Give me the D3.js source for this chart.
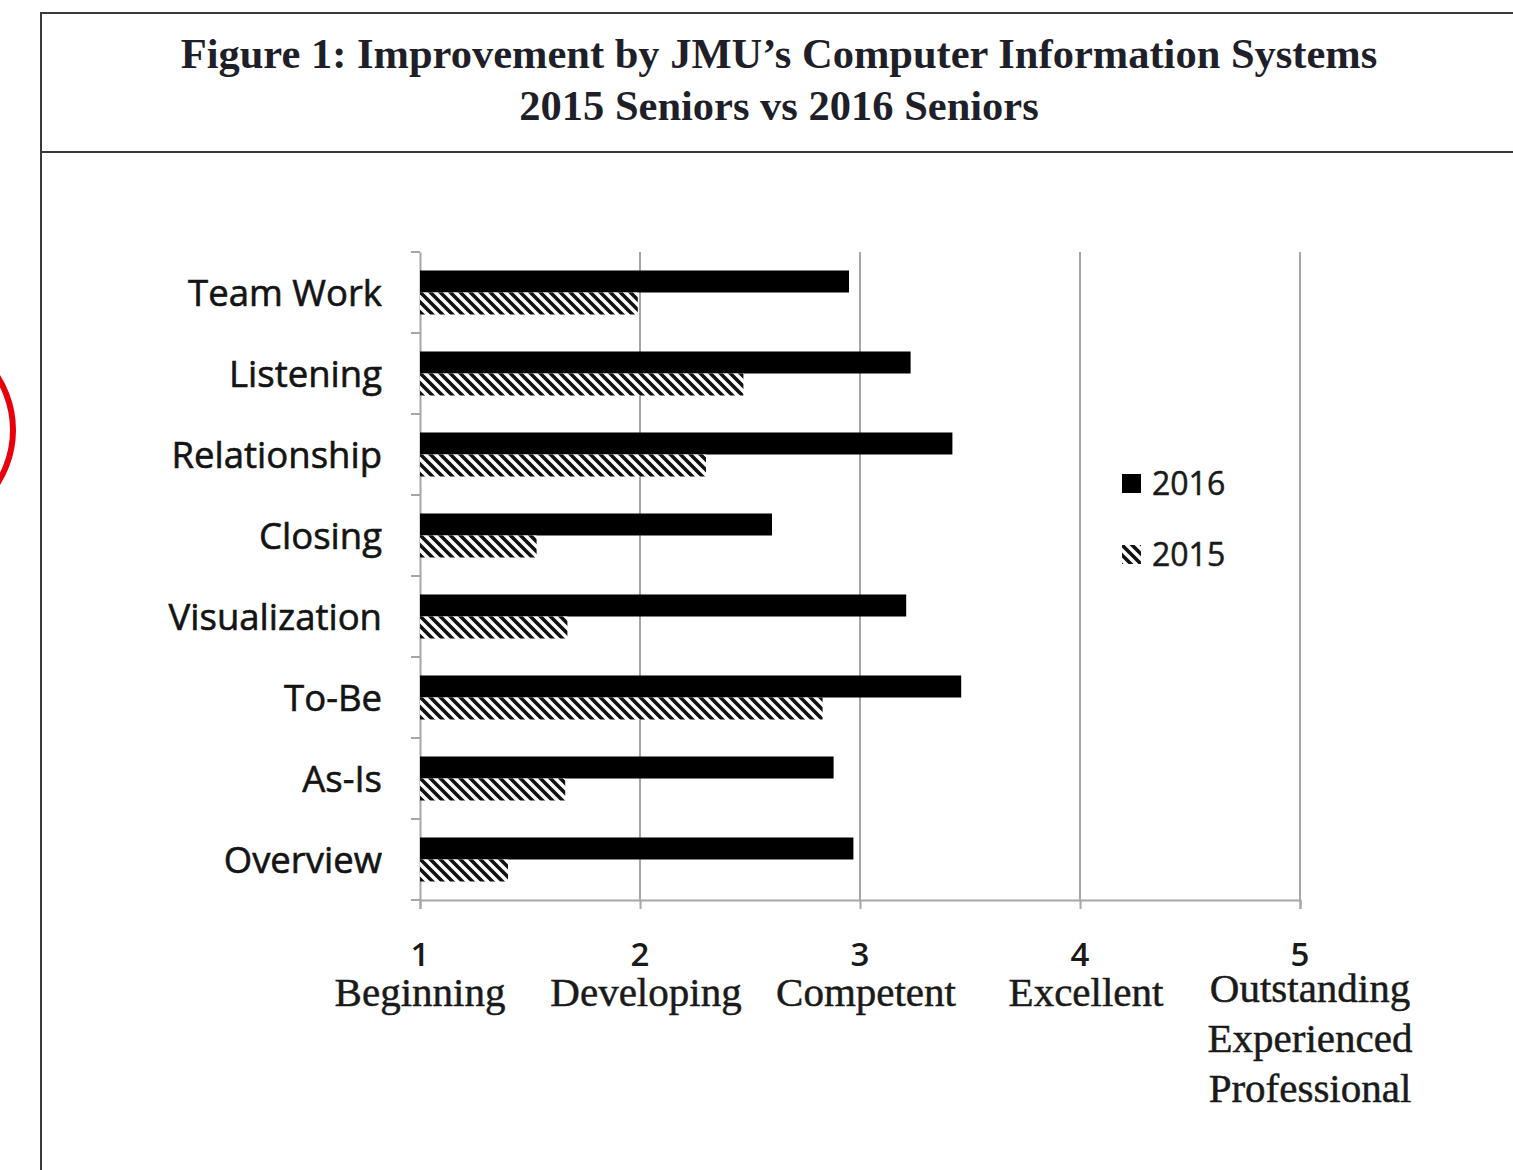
<!DOCTYPE html>
<html>
<head>
<meta charset="utf-8">
<script src="https://cdn.jsdelivr.net/npm/d3@7"></script>
<style>
  html, body { margin: 0; padding: 0; background: #fff; }
</style>
</head>
<body>
<svg id="chart"></svg>
<script>
const skills = ["Team Work", "Listening", "Relationship", "Closing", "Visualization", "To-Be", "As-Is", "Overview"];
const years = ["2016", "2015"];
const scores2016 = [2.95, 3.23, 3.42, 2.60, 3.21, 3.46, 2.88, 2.97];
const scores2015 = [1.99, 2.47, 2.30, 1.53, 1.67, 2.83, 1.66, 1.40];
const levels = [1, 2, 3, 4, 5];
const levelNames = [["Beginning"], ["Developing"], ["Competent"], ["Excellent"], ["Outstanding", "Experienced", "Professional"]];
const titleLines = ["Figure 1: Improvement by JMU\u2019s Computer Information Systems", "2015 Seniors vs 2016 Seniors"];

const width = 1513, height = 1170;
const svg = d3.select("#chart").attr("width", width).attr("height", height)
  .style("display", "block");

svg.append("rect").attr("width", width).attr("height", height).attr("fill", "#fff");

// hatch for 2015
const defs = svg.append("defs");
const pat = defs.append("pattern")
  .attr("id", "hatch")
  .attr("patternUnits", "userSpaceOnUse")
  .attr("width", 10).attr("height", 10);
pat.append("rect").attr("width", 10).attr("height", 10).attr("fill", "#fff");
pat.append("path")
  .attr("d", "M-2,-2L12,12M-2,8L2,12M8,-2L12,2")
  .attr("stroke", "#111").attr("stroke-width", 3.6);

// frame
const frame = svg.append("g").attr("stroke", "#3a3a3a").attr("stroke-width", 2).attr("fill", "none");
frame.append("path").attr("d", `M41,${height}V13H${width}`);
frame.append("line").attr("x1", 41).attr("x2", width).attr("y1", 152).attr("y2", 152);

// red annotation arc at the left edge
svg.append("circle").attr("cx", -86).attr("cy", 430).attr("r", 99)
  .attr("fill", "none").attr("stroke", "#e8000b").attr("stroke-width", 6);

// title
svg.append("g").selectAll("text")
  .data(titleLines)
  .join("text")
  .attr("x", 779)
  .attr("y", (d, i) => 68 + i * 52)
  .attr("text-anchor", "middle")
  .attr("font-family", "'Liberation Serif', 'Times New Roman', serif")
  .attr("font-weight", "bold")
  .attr("font-size", 42.5)
  .attr("fill", "#1f1f2a")
  .text(d => d);

const x = d3.scaleLinear().domain([1, 5]).range([420, 1300]);
const y = d3.scaleBand().domain(skills).range([252, 900]).padding(0);
const yInner = d3.scaleBand().domain(years).range([0, y.bandwidth()])
  .paddingInner(0).paddingOuter(0.84);

// gridlines
svg.append("g").selectAll("line")
  .data(levels.slice(1))
  .join("line")
  .attr("x1", d => x(d)).attr("x2", d => x(d))
  .attr("y1", 252).attr("y2", 900)
  .attr("stroke", "#a6a6a6").attr("stroke-width", 2);

// x axis
const xAxis = svg.append("g").attr("transform", "translate(0,900)")
  .call(d3.axisBottom(x).tickValues(levels).tickSize(9).tickFormat(""));
xAxis.select(".domain").attr("stroke", "#a6a6a6").attr("stroke-width", 2);
xAxis.selectAll(".tick line").attr("stroke", "#a6a6a6").attr("stroke-width", 2);

// y axis
const yAxis = svg.append("g").attr("transform", "translate(420,0)")
  .call(d3.axisLeft(y).tickSize(0).tickFormat(""));
yAxis.select(".domain").attr("stroke", "#a6a6a6").attr("stroke-width", 2);
yAxis.append("g").selectAll("line")
  .data(skills.map(s => y(s)).concat([900]))
  .join("line")
  .attr("x1", -9).attr("x2", 0)
  .attr("y1", d => d).attr("y2", d => d)
  .attr("stroke", "#a6a6a6").attr("stroke-width", 2);

// category labels
svg.append("g").selectAll("text")
  .data(skills)
  .join("text")
  .attr("x", 382)
  .attr("y", d => y(d) + y.bandwidth() / 2)
  .attr("dy", "0.36em")
  .attr("text-anchor", "end")
  .attr("font-family", "'Open Sans', sans-serif")
  .attr("font-size", 36.5)
  .attr("fill", "#141414")
  .attr("stroke", "#141414").attr("stroke-width", 0.6)
  .text(d => d);

// bars
const rows = skills.map((s, i) => ({ skill: s, values: [
  { year: "2016", v: scores2016[i] },
  { year: "2015", v: scores2015[i] }
] }));

const group = svg.append("g").selectAll("g")
  .data(rows)
  .join("g")
  .attr("transform", d => `translate(0,${y(d.skill)})`);

group.selectAll("rect")
  .data(d => d.values)
  .join("rect")
  .attr("x", x(1))
  .attr("y", d => yInner(d.year))
  .attr("width", d => x(d.v) - x(1))
  .attr("height", yInner.bandwidth())
  .attr("fill", d => d.year === "2016" ? "#000" : "url(#hatch)");

// tick labels
const tickLabels = svg.append("g").selectAll("g")
  .data(levels)
  .join("g")
  .attr("transform", d => `translate(${x(d)},0)`);

tickLabels.append("text")
  .attr("y", 966)
  .attr("text-anchor", "middle")
  .attr("font-family", "'Open Sans', sans-serif")
  .attr("font-weight", 600)
  .attr("font-size", 33)
  .attr("fill", "#1a1a1a")
  .text(d => d);

tickLabels.append("text")
  .attr("text-anchor", "middle")
  .attr("font-family", "'Liberation Serif', 'Times New Roman', serif")
  .attr("font-size", 41)
  .attr("fill", "#1a1a1a")
  .attr("stroke", "#1a1a1a").attr("stroke-width", 0.5)
  .selectAll("tspan")
  .data((d, i) => levelNames[i])
  .join("tspan")
  .attr("x", (d, i, nodes) => nodes.length > 1 ? 10 : (d === "Beginning" ? 0 : 6))
  .attr("y", (d, i, nodes) => (nodes.length > 1 ? 1002 : 1006) + i * 50)
  .text(d => d);

// legend
const legend = svg.append("g").selectAll("g")
  .data(years)
  .join("g")
  .attr("transform", (d, i) => `translate(1122,${474 + i * 71})`);

legend.append("rect")
  .attr("width", 19).attr("height", 19)
  .attr("fill", d => d === "2016" ? "#000" : "url(#hatch)");

legend.append("text")
  .attr("x", 30).attr("y", 21)
  .attr("font-family", "'Open Sans', sans-serif")
  .attr("font-size", 32)
  .attr("fill", "#1a1a1a")
  .attr("stroke", "#1a1a1a").attr("stroke-width", 0.5)
  .text(d => d);
</script>
</body>
</html>
